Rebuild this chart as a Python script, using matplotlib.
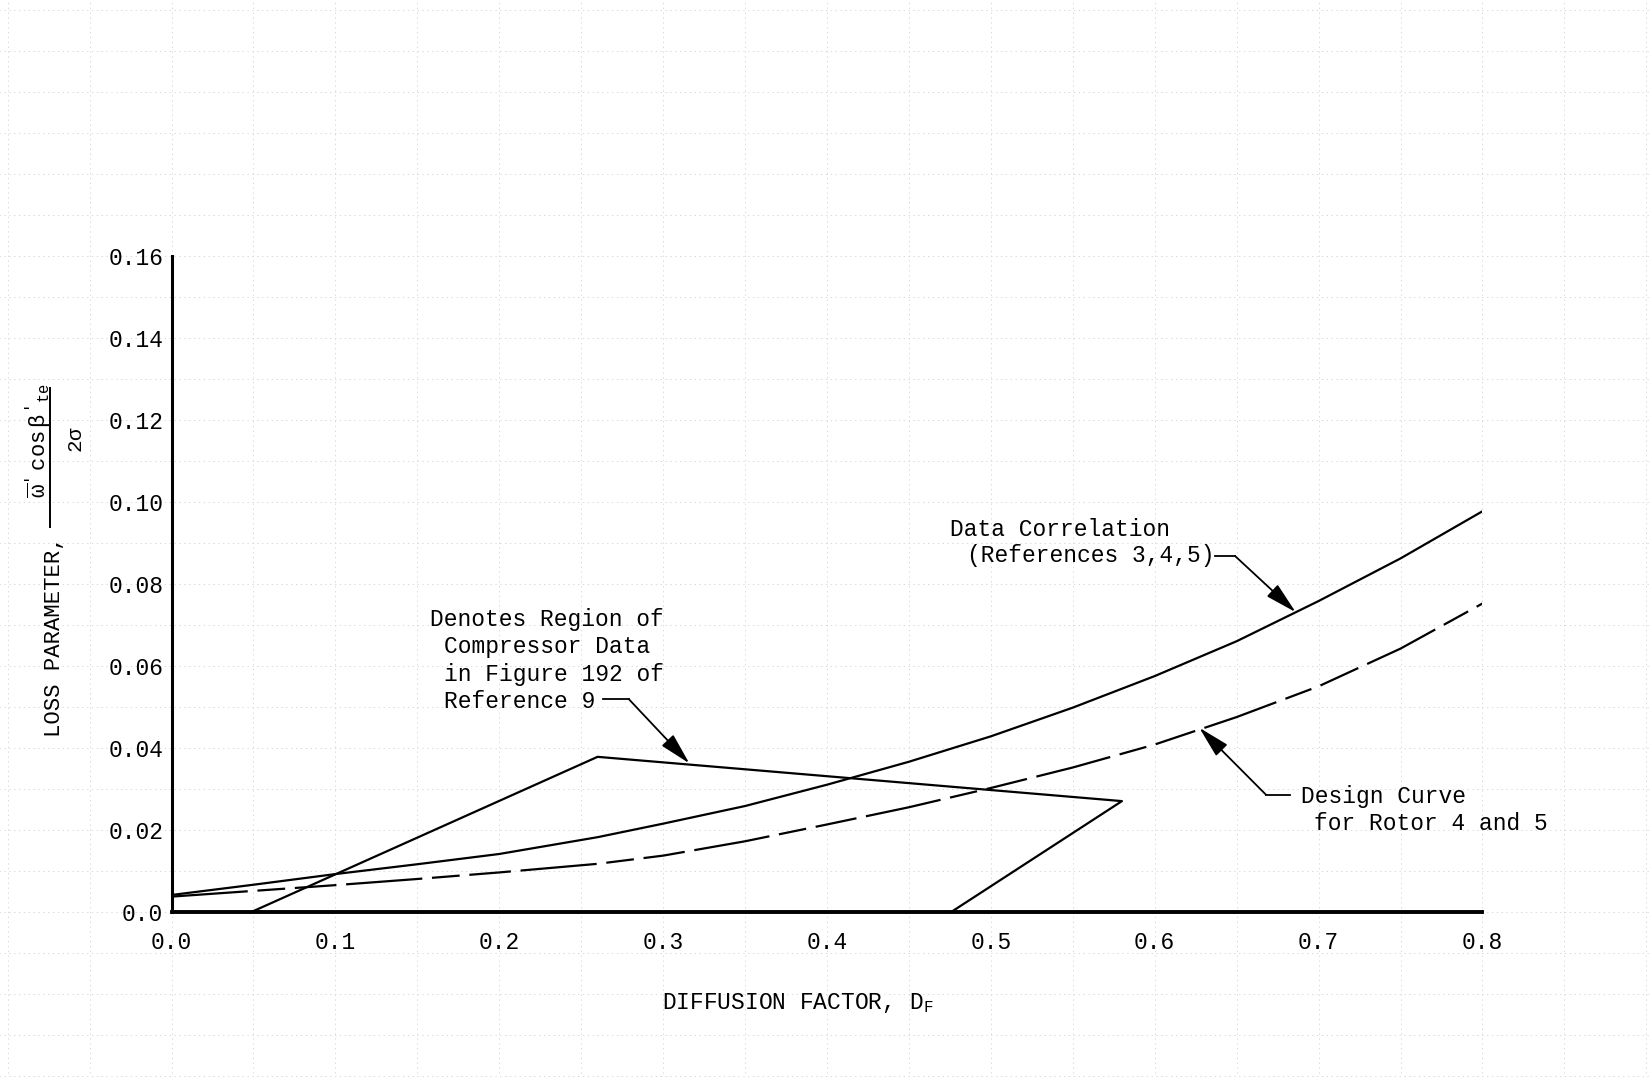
import matplotlib
matplotlib.use("Agg")
import matplotlib.pyplot as plt
from matplotlib.lines import Line2D
import numpy as np

# ---- data ----
df_corr = [0.0, 0.05, 0.10, 0.15, 0.20, 0.26, 0.30, 0.35, 0.40, 0.45, 0.50, 0.55, 0.60, 0.65, 0.70, 0.75, 0.80]
loss_corr = [0.0041, 0.0066, 0.0092, 0.0116, 0.0141, 0.0182, 0.0215, 0.0258, 0.0310, 0.0366, 0.0428, 0.0498, 0.0575, 0.0660, 0.0758, 0.0862, 0.0977]

df_design = [0.0, 0.05, 0.10, 0.15, 0.20, 0.26, 0.30, 0.35, 0.40, 0.45, 0.50, 0.55, 0.60, 0.65, 0.70, 0.75, 0.80]
loss_design = [0.0037, 0.0051, 0.0065, 0.0080, 0.0096, 0.0117, 0.0137, 0.0172, 0.0213, 0.0255, 0.0302, 0.0352, 0.0408, 0.0475, 0.0550, 0.0642, 0.0752]

region_df = [0.049, 0.26, 0.58, 0.476]
region_loss = [0.0, 0.0378, 0.027, 0.0]

xticks = [0.0, 0.1, 0.2, 0.3, 0.4, 0.5, 0.6, 0.7, 0.8]
xticklabels = ["0.0", "0.1", "0.2", "0.3", "0.4", "0.5", "0.6", "0.7", "0.8"]
yticks = [0.0, 0.02, 0.04, 0.06, 0.08, 0.10, 0.12, 0.14, 0.16]
yticklabels = ["0.0", "0.02", "0.04", "0.06", "0.08", "0.10", "0.12", "0.14", "0.16"]

# ---- style ----
plt.rcParams['font.family'] = ['Liberation Mono', 'DejaVu Sans']
plt.rcParams['mathtext.fontset'] = 'custom'
plt.rcParams['mathtext.rm'] = 'Liberation Mono'
plt.rcParams['mathtext.it'] = 'Liberation Mono'
plt.rcParams['mathtext.bf'] = 'Liberation Mono:bold'
plt.rcParams['lines.scale_dashes'] = False

fig = plt.figure(figsize=(16.51, 10.77), dpi=100)
ax = fig.add_axes([0.1039, 0.1534, 0.794, 0.609])

# faint scanned graph-paper grid
grid_kw = dict(color='#dadada', lw=0.7, ls=(0, (1, 2.5)), zorder=0, clip_on=False)
for gx in np.arange(-0.10, 0.91, 0.05):
    ax.axvline(gx, ymin=-0.26, ymax=1.40, **grid_kw)
for gy in np.arange(-0.04, 0.23, 0.01):
    ax.axhline(gy, xmin=-0.14, xmax=1.14, **grid_kw)

lw = 1.6
ax.plot(df_corr, loss_corr, color='black', lw=lw, zorder=3)
ax.plot(df_design, loss_design, color='black', lw=lw, zorder=3,
        dashes=(55, 7, 20, 7, 30, 7))
ax.plot(region_df, region_loss, color='black', lw=lw, zorder=3)

ax.set_xlim(0, 0.8)
ax.set_ylim(0, 0.16)
ax.set_xticks(xticks)
ax.set_xticklabels(xticklabels)
ax.set_yticks(yticks)
ax.set_yticklabels(yticklabels)
ax.tick_params(axis='both', length=0, labelsize=16.5, colors='black')
ax.tick_params(axis='x', pad=14)
ax.tick_params(axis='y', pad=6)
for s in ['top', 'right']:
    ax.spines[s].set_visible(False)
ax.spines['left'].set_linewidth(2.2)
ax.spines['bottom'].set_linewidth(2.8)
ax.set_facecolor('none')

# x-axis label
fig.text(0.483, 0.0687, r"DIFFUSION FACTOR, D$_{\mathrm{F}}$", ha='center', va='center', fontsize=16.5)

# y-axis label built as text + hand-set fraction
fig.text(0.0333, 0.4085, "LOSS PARAMETER,", rotation=90, ha='center', va='center', fontsize=16)
fig.text(0.0235, 0.5905, r"$\overline{\omega}'\ \cos\beta'_{te}$", rotation=90,
         ha='center', va='center', fontsize=16)
fig.text(0.0466, 0.5915, r"$2\sigma$", rotation=90, ha='center', va='center', fontsize=15)
fig.add_artist(Line2D([0.0303, 0.0303], [0.5107, 0.6397], transform=fig.transFigure,
                      color='black', lw=1.4))

# annotations
tfs = 16.5
ax.text(0.1575, 0.0714, "Denotes Region of", fontsize=tfs, va='center', ha='left')
ax.text(0.1660, 0.0647, "Compressor Data", fontsize=tfs, va='center', ha='left')
ax.text(0.1660, 0.0580, "in Figure 192 of", fontsize=tfs, va='center', ha='left')
ax.text(0.1660, 0.0513, "Reference 9", fontsize=tfs, va='center', ha='left')

ax.text(0.475, 0.0932, "Data Correlation", fontsize=tfs, va='center', ha='left')
ax.text(0.4852, 0.0868, "(References 3,4,5)", fontsize=tfs, va='center', ha='left')

ax.text(0.689, 0.0282, "Design Curve", fontsize=tfs, va='center', ha='left')
ax.text(0.697, 0.0215, "for Rotor 4 and 5", fontsize=tfs, va='center', ha='left')

arrow_kw = dict(arrowstyle='-|>,head_length=1.4,head_width=0.35', lw=1.3,
                color='black', shrinkA=0, shrinkB=0, mutation_scale=14)

# leader 1
ax.plot([0.2635, 0.279], [0.0519, 0.0519], color='black', lw=1.3)
ax.annotate('', xy=(0.316, 0.0362), xytext=(0.279, 0.0519), arrowprops=arrow_kw)
# leader 2
ax.plot([0.637, 0.649], [0.0868, 0.0868], color='black', lw=1.3)
ax.annotate('', xy=(0.686, 0.0731), xytext=(0.649, 0.0868), arrowprops=arrow_kw)
# leader 3
ax.plot([0.6826, 0.6678], [0.0286, 0.0286], color='black', lw=1.3)
ax.annotate('', xy=(0.6272, 0.0449), xytext=(0.6678, 0.0286), arrowprops=arrow_kw)

fig.savefig("out.png", dpi=100)
